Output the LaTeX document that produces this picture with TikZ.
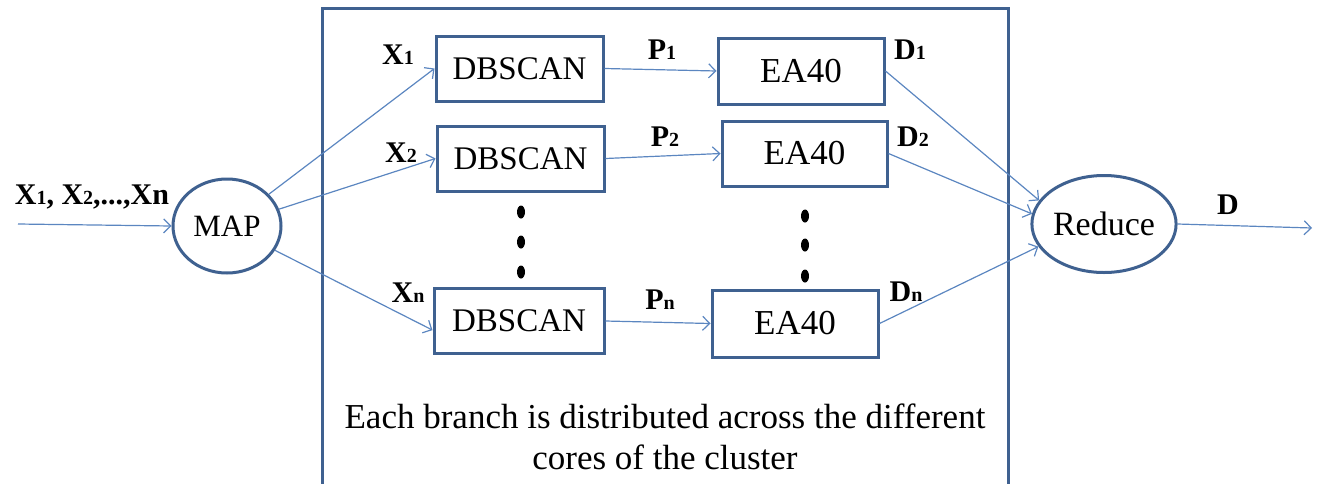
\documentclass[tikz,border=0pt]{standalone}
\usepackage{fontspec}
\setmainfont{Liberation Serif}
\usetikzlibrary{arrows.meta,shapes.geometric}
\definecolor{boxblue}{HTML}{3F6190}
\definecolor{arrblue}{HTML}{5B86C0}
\newcommand\sub[1]{{\fontsize{20}{20}\selectfont #1}}
\tikzset{
  proc/.style={draw=boxblue, line width=3pt, minimum width=167pt, minimum height=65pt, inner sep=0pt, font=\fontsize{33}{33}\selectfont},
  eabox/.style={proc, font=\fontsize{35}{35}\selectfont},
  oval/.style={draw=boxblue, line width=3pt, ellipse, inner sep=0pt},
  conn/.style={draw=arrblue, line width=1.2pt, -{Straight Barb[length=7pt,width=14pt,line width=1.2pt]}},
  lab/.style={font=\bfseries\fontsize{30}{30}\selectfont, inner sep=0pt},
  dotnode/.style={fill=black, ellipse, minimum width=8pt, minimum height=13pt, inner sep=0pt},
  captext/.style={font=\fontsize{35}{41}\selectfont, align=center, inner sep=0pt}
}
\begin{document}
\begin{tikzpicture}[x=1pt,y=-1pt]
\useasboundingbox (0,0) rectangle (1320,483);
\begin{scope}
\clip (0,0) rectangle (1320,483);
\draw[boxblue, line width=3pt] (322,8) rectangle (1008,490);
\end{scope}
% nodes
\node[oval, minimum width=108pt, minimum height=94pt, font=\fontsize{31}{31}\selectfont] (map) at (227,226) {MAP};
\node[oval, minimum width=129pt, minimum height=97pt, font=\fontsize{34}{34}\selectfont] (red) at (1104,224) {Reduce};
\node[proc] (db1) at (519.5,68.5) {DBSCAN};
\node[proc] (db2) at (520.5,158.5) {DBSCAN};
\node[proc, minimum width=170pt] (dbn) at (519,321) {DBSCAN};
\node[eabox, minimum width=166pt, minimum height=66pt] (ea1) at (801,71) {EA40};
\node[eabox, minimum width=165pt] (ea2) at (804.5,153.5) {EA40};
\node[eabox, minimum width=166pt, minimum height=67pt] (ean) at (795,323.5) {EA40};
% dots
\node[dotnode] (l1) at (521,212) {};
\node[dotnode] (l2) at (521,242) {};
\node[dotnode] (l3) at (521,272) {};
\node[dotnode] (r1) at (805,216) {};
\node[dotnode] (r2) at (805,245) {};
\node[dotnode] (r3) at (805,276) {};
% free ends
\coordinate (in) at (18,224);
\coordinate (out) at (1312,228);
% connectors
\draw[conn] (in) -- (map.west);
\draw[conn] (map) -- (db1.west);
\draw[conn] (map) -- (db2.west);
\draw[conn] (map) -- (dbn.186);
\draw[conn] (db1.east) -- (ea1.west);
\draw[conn] (db2.east) -- (ea2.west);
\draw[conn] (dbn.east) -- (ean.west);
\draw[conn] (ea1.east) -- (red.160);
\draw[conn] (ea2.east) -- (red.172);
\draw[conn] (ean.east) -- (red.199);
\draw[conn] (red.east) -- (out);
% labels
\node[lab] (lin) at (92,197) {X\sub{1}, X\sub{2},...,Xn};
\node[lab] (lx1) at (398,55) {X\sub{1}};
\node[lab] (lx2) at (401,153) {X\sub{2}};
\node[lab] (lxn) at (408,293) {X\sub{n}};
\node[lab] (lp1) at (662,50) {P\sub{1}};
\node[lab] (lp2) at (665,137) {P\sub{2}};
\node[lab] (lpn) at (660,300) {P\sub{n}};
\node[lab] (ld1) at (910,50) {D\sub{1}};
\node[lab] (ld2) at (913,137) {D\sub{2}};
\node[lab] (ldn) at (906,292) {D\sub{n}};
\node[lab] (ld) at (1228,205) {D};
\node[captext] (caption) at (665,437) {Each branch is distributed across the different\\cores of the cluster};
\end{tikzpicture}
\end{document}
